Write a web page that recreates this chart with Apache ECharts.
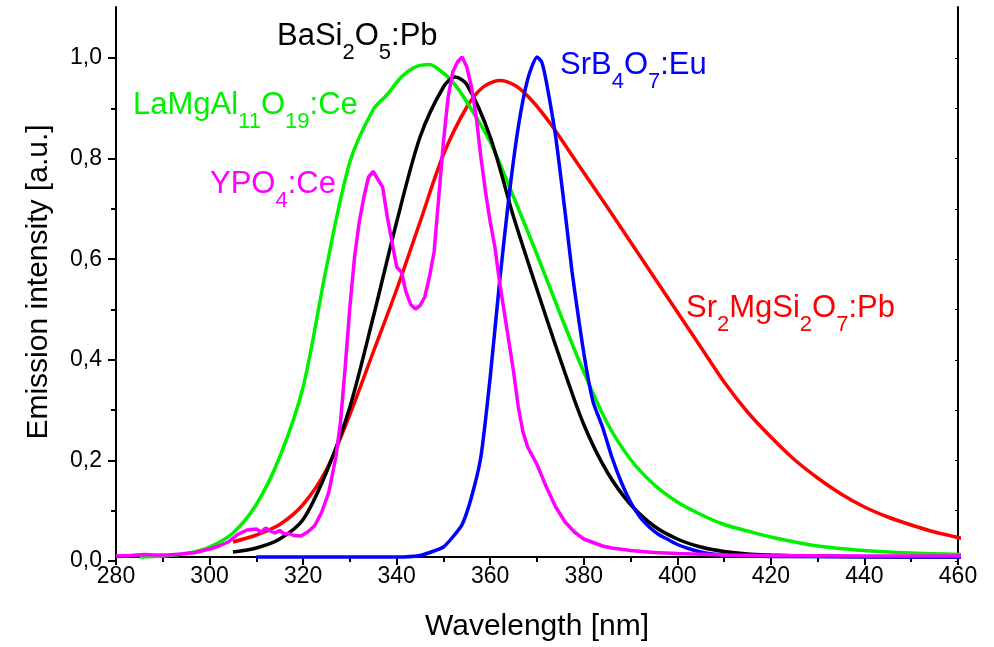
<!DOCTYPE html>
<html>
<head>
<meta charset="utf-8">
<script src="https://cdn.jsdelivr.net/npm/echarts@6/dist/echarts.min.js"></script>
<style>
  html, body { margin: 0; padding: 0; background: #fff; }
  #chart { width: 994px; height: 647px; }
</style>
</head>
<body>
<div id="chart"></div>
<script>
// emission spectra, wavelength [nm] / normalised intensity
var redX = [305, 310, 315, 320, 325, 330, 335, 340, 345, 350, 355, 358.5, 362, 365.5, 369, 373, 377, 381, 385, 390, 395, 400, 405, 410, 415, 420, 425, 430, 435, 440, 445, 450, 455, 461];
var redY = [0.03, 0.044, 0.065, 0.105, 0.175, 0.285, 0.41, 0.535, 0.67, 0.805, 0.9, 0.94, 0.953, 0.942, 0.912, 0.865, 0.81, 0.755, 0.70, 0.63, 0.56, 0.49, 0.42, 0.35, 0.29, 0.24, 0.195, 0.158, 0.126, 0.10, 0.08, 0.064, 0.05, 0.037];

var blackX = [305, 310, 315, 320, 325, 330, 335, 340, 345, 350, 352.5, 355, 360, 365, 370, 375, 380, 385, 390, 395, 400, 405, 410, 415, 420, 430, 440, 461];
var blackY = [0.01, 0.018, 0.036, 0.075, 0.17, 0.30, 0.48, 0.67, 0.84, 0.94, 0.96, 0.945, 0.84, 0.68, 0.535, 0.395, 0.265, 0.17, 0.105, 0.062, 0.036, 0.02, 0.011, 0.006, 0.004, 0.0015, 0.0005, 0];

var greenX = [285, 290, 295, 300, 305, 310, 315, 320, 325, 330, 335, 338, 341, 344, 347, 349, 352, 355, 360, 365, 370, 375, 380, 385, 390, 395, 400, 405, 410, 415, 420, 430, 440, 450, 461];
var greenY = [0, 0.002, 0.007, 0.02, 0.048, 0.105, 0.2, 0.34, 0.58, 0.79, 0.895, 0.925, 0.96, 0.98, 0.985, 0.975, 0.95, 0.91, 0.83, 0.72, 0.605, 0.485, 0.37, 0.268, 0.195, 0.145, 0.11, 0.085, 0.065, 0.052, 0.04, 0.022, 0.013, 0.008, 0.005];

var blueX = [310, 340, 345, 348, 350, 352, 354, 356, 358, 360, 362, 364, 366, 368, 370, 371, 372, 374, 376, 377.5, 379, 380.5, 382, 384, 386, 388, 390, 392, 394, 396, 398, 400, 403, 406, 410, 420, 461];
var blueY = [0, 0, 0.003, 0.012, 0.02, 0.04, 0.065, 0.12, 0.2, 0.36, 0.55, 0.72, 0.86, 0.955, 1.0, 0.99, 0.95, 0.84, 0.69, 0.57, 0.47, 0.38, 0.31, 0.26, 0.2, 0.15, 0.11, 0.08, 0.06, 0.045, 0.035, 0.025, 0.015, 0.008, 0.004, 0.001, 0];

var magentaX = [280, 283, 286, 288, 291, 294, 297, 300, 302, 304, 306, 308, 310, 311, 312, 313, 314, 315, 316, 317, 318, 319.5, 321, 322.5, 324, 325.5, 327, 328, 329, 330, 331, 332, 333, 334, 335, 336, 337, 338, 339, 340, 341, 342, 343, 344, 345, 346, 347, 348, 349, 350, 351, 352, 353, 354, 355, 356, 357, 358, 359, 360, 361, 362, 363, 364, 365, 366, 367, 368, 370, 372, 374, 376, 378, 380, 382, 384, 386, 390, 395, 400, 410, 420, 440, 461];
var magentaY = [0.002, 0.003, 0.005, 0.004, 0.004, 0.006, 0.009, 0.016, 0.022, 0.03, 0.045, 0.054, 0.056, 0.05, 0.058, 0.052, 0.048, 0.053, 0.046, 0.047, 0.043, 0.042, 0.05, 0.063, 0.09, 0.13, 0.2, 0.27, 0.38, 0.5, 0.6, 0.67, 0.72, 0.76, 0.771, 0.755, 0.74, 0.68, 0.63, 0.58, 0.57, 0.53, 0.505, 0.496, 0.503, 0.52, 0.56, 0.61, 0.72, 0.83, 0.92, 0.97, 0.99, 1.0, 0.98, 0.94, 0.88, 0.8, 0.73, 0.67, 0.62, 0.55, 0.49, 0.43, 0.37, 0.3, 0.25, 0.22, 0.185, 0.14, 0.1, 0.07, 0.05, 0.036, 0.029, 0.022, 0.018, 0.013, 0.009, 0.007, 0.004, 0.003, 0.002, 0.002];

var FONT = "'Liberation Sans', Arial, sans-serif";

function pairs(xs, ys) {
  return xs.map(function(x, i) { return [x, ys[i]]; });
}

function curve(name, xs, ys, color, smooth) {
  return {
    name: name,
    type: 'line',
    xAxisIndex: 0,
    yAxisIndex: 0,
    data: pairs(xs, ys),
    showSymbol: false,
    smooth: smooth,
    clip: false,
    lineStyle: { color: color, width: 3.5 },
    itemStyle: { color: color },
    silent: true
  };
}

// chemical formula with subscripts as rich text
function formula(parts, x, y, color) {
  var txt = parts.map(function(p) { return '{' + p[0] + '|' + p[1] + '}'; }).join('');
  return {
    type: 'text',
    x: x,
    y: y,
    style: {
      text: txt,
      fill: color,
      align: 'left',
      verticalAlign: 'middle',
      rich: {
        m: { fontSize: 31, fontFamily: FONT, lineHeight: 56, verticalAlign: 'middle', fill: color },
        s: { fontSize: 22, fontFamily: FONT, lineHeight: 22, verticalAlign: 'bottom', fill: color }
      }
    }
  };
}

var chart = echarts.init(document.getElementById('chart'));

var axisLine = { show: true, lineStyle: { color: '#000', width: 2 } };

var option = {
  animation: false,
  backgroundColor: '#fff',
  grid: [
    { left: 116, right: 36, top: 7, bottom: 86 },
    { left: 116, right: 36, top: 58, bottom: 86 }
  ],
  xAxis: [
    {
      type: 'value', gridIndex: 0, position: 'bottom',
      min: 280, max: 460, interval: 20,
      axisLine: axisLine,
      axisTick: { show: true, inside: false, length: 8, lineStyle: { color: '#000', width: 2 } },
      minorTick: { show: true, splitNumber: 2, length: 5, lineStyle: { color: '#000', width: 2 } },
      splitLine: { show: false },
      axisLabel: { color: '#000', fontSize: 23, fontFamily: FONT, margin: 8 },
      name: 'Wavelength [nm]',
      nameLocation: 'middle',
      nameGap: 55,
      nameTextStyle: { color: '#000', fontSize: 30, fontFamily: FONT }
    },
    {
      type: 'value', gridIndex: 0, position: 'top',
      min: 280, max: 460, interval: 10,
      axisLine: axisLine,
      axisTick: { show: true, inside: true, length: 3, lineStyle: { color: '#000', width: 1 } },
      splitLine: { show: false },
      axisLabel: { show: false }
    },
    { type: 'value', gridIndex: 1, min: 280, max: 460, show: false }
  ],
  yAxis: [
    {
      type: 'value', gridIndex: 0, position: 'left',
      min: 0, max: 1.1,
      axisLine: axisLine,
      axisTick: { show: false },
      axisLabel: { show: false },
      splitLine: { show: false },
      name: 'Emission intensity [a.u.]',
      nameLocation: 'middle',
      nameGap: 62,
      nameTextStyle: { color: '#000', fontSize: 30, fontFamily: FONT }
    },
    {
      type: 'value', gridIndex: 0, position: 'right',
      min: 0, max: 1.1,
      axisLine: axisLine,
      axisTick: { show: false },
      axisLabel: { show: false },
      splitLine: { show: false }
    },
    {
      type: 'value', gridIndex: 1, position: 'left',
      min: 0, max: 1.0, interval: 0.2,
      axisLine: { show: false },
      axisTick: { show: true, inside: false, length: 8, lineStyle: { color: '#000', width: 2 } },
      minorTick: { show: true, splitNumber: 2, length: 5, lineStyle: { color: '#000', width: 2 } },
      splitLine: { show: false },
      axisLabel: {
        color: '#000', fontSize: 23, fontFamily: FONT, margin: 14,
        formatter: function(v) { return v.toFixed(1).replace('.', ','); }
      }
    },
    {
      type: 'value', gridIndex: 1, position: 'right',
      min: 0, max: 1.0, interval: 0.1,
      axisLine: { show: false },
      axisTick: { show: true, inside: true, length: 3, lineStyle: { color: '#000', width: 1 } },
      axisLabel: { show: false },
      splitLine: { show: false }
    }
  ],
  series: [
    curve('Sr2MgSi2O7:Pb', redX, redY, '#ff0000', 0.3),
    curve('LaMgAl11O19:Ce', greenX, greenY, '#00f000', 0.3),
    curve('BaSi2O5:Pb', blackX, blackY, '#000000', 0.3),
    curve('SrB4O7:Eu', blueX, blueY, '#0000ff', 0.2),
    curve('YPO4:Ce', magentaX, magentaY, '#ff00ff', false)
  ],
  graphic: [
    formula([['m', 'BaSi'], ['s', '2'], ['m', 'O'], ['s', '5'], ['m', ':Pb']], 277, 36, '#000000'),
    formula([['m', 'LaMgAl'], ['s', '11'], ['m', 'O'], ['s', '19'], ['m', ':Ce']], 133, 105, '#00f000'),
    formula([['m', 'YPO'], ['s', '4'], ['m', ':Ce']], 210, 184, '#ff00ff'),
    formula([['m', 'SrB'], ['s', '4'], ['m', 'O'], ['s', '7'], ['m', ':Eu']], 560, 65, '#0000ff'),
    formula([['m', 'Sr'], ['s', '2'], ['m', 'MgSi'], ['s', '2'], ['m', 'O'], ['s', '7'], ['m', ':Pb']], 686, 308, '#ff0000')
  ]
};

chart.setOption(option);
</script>
</body>
</html>
